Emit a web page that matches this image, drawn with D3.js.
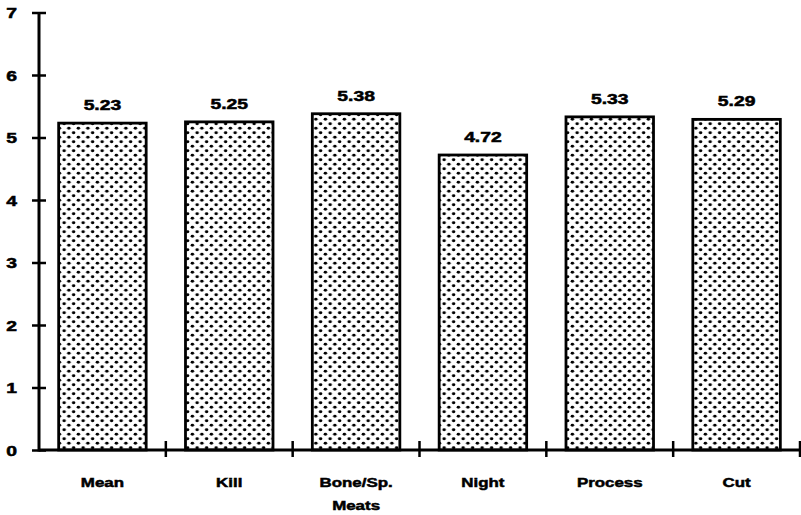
<!DOCTYPE html>
<html>
<head>
<meta charset="utf-8">
<script src="https://cdn.jsdelivr.net/npm/d3@7/dist/d3.min.js"></script>
<style>
  html, body { margin: 0; padding: 0; background: #fff; }
  svg text { font-family: "Liberation Sans", Arial, Helvetica, sans-serif; font-weight: bold; fill: #000; stroke: #000; stroke-width: 0.5px; }
</style>
</head>
<body>
<svg id="chart" width="801" height="515"></svg>
<script>
// Mean ratings by department
const categories = ["Mean", "Kill", "Bone/Sp.\nMeats", "Night", "Process", "Cut"];
const values = [5.23, 5.25, 5.38, 4.72, 5.33, 5.29];
const yTicks = [0, 1, 2, 3, 4, 5, 6, 7];

const svg = d3.select("#chart");
const plotLeft = 39, plotRight = 800, plotTop = 12.5, plotBottom = 450;
const stretch = 1.38; // wide lettering

// Stippled fill for the bars
const tileW = 9.5, tileH = 9;
const defs = svg.append("defs");
const pat = defs.append("pattern")
  .attr("id", "dots")
  .attr("patternUnits", "userSpaceOnUse")
  .attr("width", tileW).attr("height", tileH);
pat.append("rect").attr("width", tileW).attr("height", tileH).attr("fill", "#fff");
pat.append("ellipse").attr("cx", tileW / 4).attr("cy", tileH / 4).attr("rx", 1.75).attr("ry", 1.45).attr("fill", "#000");
pat.append("ellipse").attr("cx", tileW * 3 / 4).attr("cy", tileH * 3 / 4).attr("rx", 1.75).attr("ry", 1.45).attr("fill", "#000");

const x = d3.scaleBand().domain(categories).range([plotLeft, plotRight]).paddingInner(0.31).paddingOuter(0.155);
const xEdges = d3.scaleLinear().domain([0, categories.length]).range([plotLeft, plotRight]);
const y = d3.scaleLinear().domain([0, 7]).range([plotBottom, plotTop]);

// Bars
svg.selectAll("rect.bar").data(values).join("rect")
  .attr("class", "bar")
  .attr("x", (d, i) => x(categories[i]))
  .attr("y", d => y(d))
  .attr("width", x.bandwidth())
  .attr("height", d => y(0) - y(d))
  .attr("fill", "url(#dots)")
  .attr("stroke", "#000")
  .attr("stroke-width", 2.8);

// Value labels
svg.selectAll("text.val").data(values).join("text")
  .attr("class", "val")
  .attr("transform", (d, i) => `translate(${x(categories[i]) + x.bandwidth() / 2},${y(d) - 13}) scale(${stretch},1)`)
  .attr("text-anchor", "middle")
  .style("font-size", "14px")
  .text(d => d.toFixed(2));

// Y axis
const yAxis = svg.append("g").attr("transform", `translate(${plotLeft},0)`)
  .call(d3.axisLeft(y).tickValues(yTicks).tickSize(7).tickPadding(0).tickFormat(d3.format("d")));
yAxis.select(".domain").remove();
yAxis.selectAll(".tick line").attr("x1", -7).attr("x2", 7).attr("stroke", "#000").attr("stroke-width", 2.5);
yAxis.selectAll(".tick text")
  .attr("x", null).attr("dy", null)
  .attr("transform", `translate(-22,5) scale(${stretch},1)`)
  .attr("text-anchor", "end")
  .style("font-size", "14px");
yAxis.append("line").attr("x1", 0).attr("x2", 0).attr("y1", plotTop).attr("y2", plotBottom + 1.5)
  .attr("stroke", "#000").attr("stroke-width", 3);

// X axis: baseline with ticks at category boundaries
const xAxis = svg.append("g");
xAxis.append("line").attr("x1", plotLeft).attr("x2", plotRight).attr("y1", plotBottom).attr("y2", plotBottom)
  .attr("stroke", "#000").attr("stroke-width", 3);
xAxis.selectAll("line.xt").data(d3.range(1, categories.length + 1)).join("line")
  .attr("class", "xt")
  .attr("x1", d => xEdges(d)).attr("x2", d => xEdges(d))
  .attr("y1", plotBottom - 9).attr("y2", plotBottom + 7)
  .attr("stroke", "#000").attr("stroke-width", 2.5);

// Category labels (multi-line where needed)
const labels = xAxis.selectAll("g.lab").data(categories).join("g")
  .attr("class", "lab")
  .attr("transform", d => `translate(${x(d) + x.bandwidth() / 2},487) scale(1.3,1)`);
labels.each(function (d) {
  const g = d3.select(this);
  d.split("\n").forEach((line, k) => {
    g.append("text").attr("y", k * 23).attr("text-anchor", "middle")
      .style("font-size", "13px").text(line);
  });
});
</script>
</body>
</html>
